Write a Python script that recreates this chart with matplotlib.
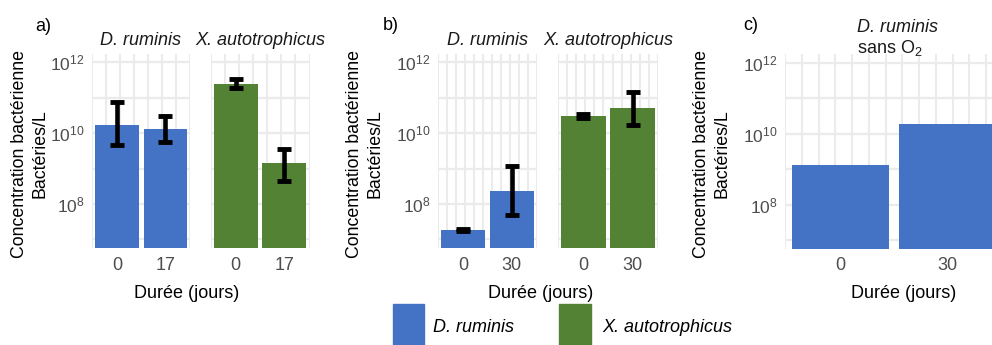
import numpy as np
import matplotlib
matplotlib.use("Agg")
import matplotlib.pyplot as plt
from matplotlib.patches import Rectangle

plt.rcParams['font.family'] = ['Liberation Sans', 'DejaVu Sans']
plt.rcParams['mathtext.default'] = 'regular'

# data (bacteria per litre)
species = ['D. ruminis', 'X. autotrophicus']
days_a = ['0', '17']
days_b = ['0', '30']

a_dr = [1.7e10, 1.3e10]
a_dr_lo = [4.5e9, 5.8e9]
a_dr_hi = [7.8e10, 3.0e10]
a_xa = [2.4e11, 1.4e9]
a_xa_lo = [1.9e11, 4.4e8]
a_xa_hi = [3.3e11, 3.6e9]

b_dr = [1.8e7, 2.4e8]
b_dr_lo = [1.7e7, 4.9e7]
b_dr_hi = [2.0e7, 1.2e9]
b_xa = [3.1e10, 5.2e10]
b_xa_lo = [2.6e10, 1.7e10]
b_xa_hi = [3.5e10, 1.45e11]

c_dr = [1.35e9, 1.9e10]

colors = {'D. ruminis': '#4472C4', 'X. autotrophicus': '#548235'}
grid_col = '#EBEBEB'
tick_col = '#4D4D4D'
ylims = (10 ** 6.75, 10 ** 12.25)
ylab = 'Concentration bactérienne\nBactéries/L'

W, H = 992, 345
fig = plt.figure(figsize=(W / 100, H / 100), dpi=100)


def px_axes(x0, x1, y0, y1):
    return fig.add_axes([x0 / W, 1 - y1 / H, (x1 - x0) / W, (y1 - y0) / H])


def ftext(x, y, s, **kw):
    return fig.text(x / W, 1 - y / H, s, **kw)


def facet(ax, labels, vals, lo, hi, color, nvgrid, show_y):
    x = np.arange(len(labels))
    ax.set_yscale('log')
    ax.set_xlim(-0.52, len(labels) - 0.48)
    ax.set_ylim(*ylims)
    for v in np.linspace(-0.52, len(labels) - 0.48, nvgrid):
        ax.axvline(v, color=grid_col, lw=1.5, zorder=0)
    for e in range(7, 13):
        ax.axhline(10.0 ** e, color=grid_col, lw=1.6, zorder=0)
    ax.bar(x, vals, width=0.9, bottom=1e5, color=color, zorder=2)
    if lo is not None:
        vals = np.array(vals)
        yerr = [vals - np.array(lo), np.array(hi) - vals]
        ax.errorbar(x, vals, yerr=yerr, fmt='none', ecolor='black',
                    elinewidth=3.3, capsize=5, capthick=3.5, zorder=3)
    for s in ax.spines.values():
        s.set_visible(False)
    ax.set_xticks(x, labels)
    ax.minorticks_off()
    ax.set_yticks([1e8, 1e10, 1e12],
                  [r'$\mathdefault{10^{8}}$', r'$\mathdefault{10^{10}}$',
                   r'$\mathdefault{10^{12}}$'] if show_y else [])
    ax.tick_params(length=0, labelsize=13, colors=tick_col)
    ax.tick_params(axis='x', pad=6)
    ax.tick_params(axis='y', pad=5.5, labelsize=12.5)


# panel a
ax = px_axes(92, 190.5, 53.5, 248.3)
facet(ax, days_a, a_dr, a_dr_lo, a_dr_hi, colors['D. ruminis'], 8, True)
ax = px_axes(210.5, 309.5, 53.5, 248.3)
facet(ax, days_a, a_xa, a_xa_lo, a_xa_hi, colors['X. autotrophicus'], 8, False)

# panel b
ax = px_axes(438, 537, 53.5, 248.3)
facet(ax, days_b, b_dr, b_dr_lo, b_dr_hi, colors['D. ruminis'], 12, True)
ax = px_axes(558, 658, 53.5, 248.3)
facet(ax, days_b, b_xa, b_xa_lo, b_xa_hi, colors['X. autotrophicus'], 12, False)

# panel c (runs past the right edge, like the original)
ax = px_axes(785, 1003, 54, 249)
facet(ax, days_b, c_dr, None, None, colors['D. ruminis'], 14, True)

# strip labels
for xc, s in [(141, species[0]), (260, species[1]), (487.5, species[0]), (608, species[1])]:
    ftext(xc, 45, s, ha='center', va='baseline', fontsize=13, style='italic', color='#1A1A1A')
ftext(857, 31.5, 'D. ruminis', ha='left', va='baseline', fontsize=13, style='italic', color='#1A1A1A')
ftext(857, 52.5, r'sans O$_\mathdefault{2}$', ha='left', va='baseline', fontsize=13, color='#1A1A1A')

# panel letters
ftext(35, 31, 'a)', ha='left', va='baseline', fontsize=13)
ftext(383, 30, 'b)', ha='left', va='baseline', fontsize=13)
ftext(743, 30, 'c)', ha='left', va='baseline', fontsize=13)

# axis titles
for xc in (30, 364.5, 711.5):
    ftext(xc, 154, ylab, ha='center', va='center', rotation=90, fontsize=12.75,
          linespacing=1.3)
for xc in (186.5, 541, 903.5):
    ftext(xc, 298, 'Durée (jours)', ha='center', va='baseline', fontsize=13)

# legend
for (x0, x1, tx), sp in zip([(393, 424, 433), (559, 591, 602)], species):
    fig.patches.append(Rectangle((x0 / W, 1 - 360 / H), (x1 - x0) / W, 56 / H,
                                 transform=fig.transFigure, color=colors[sp]))
    ftext(tx, 328, sp, ha='left', va='center', fontsize=13, style='italic')

fig.savefig('out.png', dpi=100)
